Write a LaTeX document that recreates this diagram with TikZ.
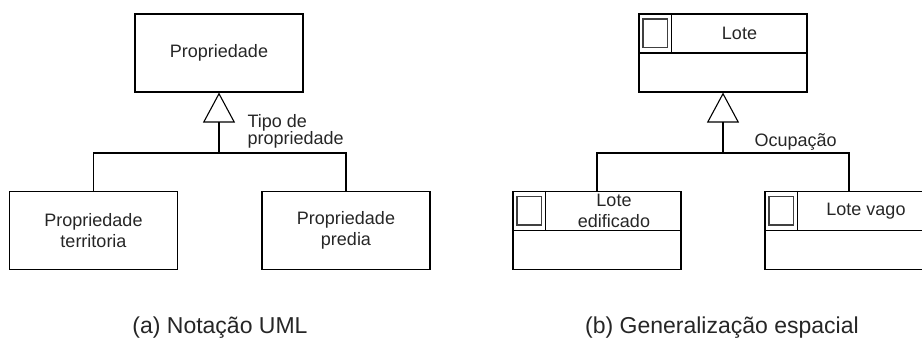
\documentclass[tikz,border=0pt]{standalone}
\usepackage{fontspec}
\setmainfont{Liberation Sans}
\usetikzlibrary{arrows.meta,calc}

\begin{document}
\begin{tikzpicture}[
  x=1pt, y=-1pt,
  line width=1.1pt,
  font=\fontsize{18}{21}\selectfont,
  every node/.style={text=black!85},
  classe/.style={draw, minimum width=168pt, minimum height=78pt, inner sep=0pt},
  rotulo/.style={align=center, inner sep=0pt},
  nota/.style={align=left, inner sep=0pt, font=\fontsize{18}{17}\selectfont},
  legenda/.style={inner sep=0pt, anchor=base, font=\fontsize{23}{26}\selectfont},
  icone/.style={draw=black!75, line width=1.5pt},
  gen/.style={-{Triangle[open, length=30pt, width=32pt, line width=1.1pt]}}
]
\useasboundingbox (0,0) rectangle (922,338);
\clip (0,0) rectangle (922,338);

% ====================== (a) UML ======================
\node[classe] (prop) at (219,53) {Propriedade};
\node[classe, align=center] (terr) at (93.5,230.5) {Propriedade\\territoria};
\node[classe, align=center] (pred) at (346,230.5) {Propriedade\\predia};
\coordinate (ja) at (prop.south |- 0,153);
\draw (terr.north) |- (ja) -| (pred.north);
\draw[gen] (ja) -- (prop.south);
\node[nota, anchor=north west] (tipo) at (247,114) {Tipo de\\propriedade};
\node[legenda] (capa) at (220,333) {(a) Notação UML};

% ====================== (b) espacial ======================
\node[classe] (lote) at (723,53) {};
\node[classe] (edif) at (597,230.5) {};
\node[classe] (vago) at (849,230.5) {};
\foreach \n in {lote,edif,vago} {
  \draw (\n.west) -- (\n.east);
  \draw ([xshift=33pt]\n.north west) -- ([xshift=33pt]\n.west);
  \draw[icone] ($(\n.north west)+(4.5,5.5)$) rectangle ($(\n.north west)+(29,34)$);
}
\node[rotulo] (tlote) at (739.5,33.5) {Lote};
\node[rotulo] (tedif) at (614,210.5) {Lote\\edificado};
\node[rotulo] (tvago) at (866,211) {Lote vago};
\coordinate (jb) at (lote.south |- 0,153);
\draw (edif.north) |- (jb) -| (vago.north);
\draw[gen] (jb) -- (lote.south);
\node[nota, anchor=base west] (ocup) at (754,146) {Ocupação};
\node[legenda] (capb) at (722,333) {(b) Generalização espacial};

\end{tikzpicture}
\end{document}
